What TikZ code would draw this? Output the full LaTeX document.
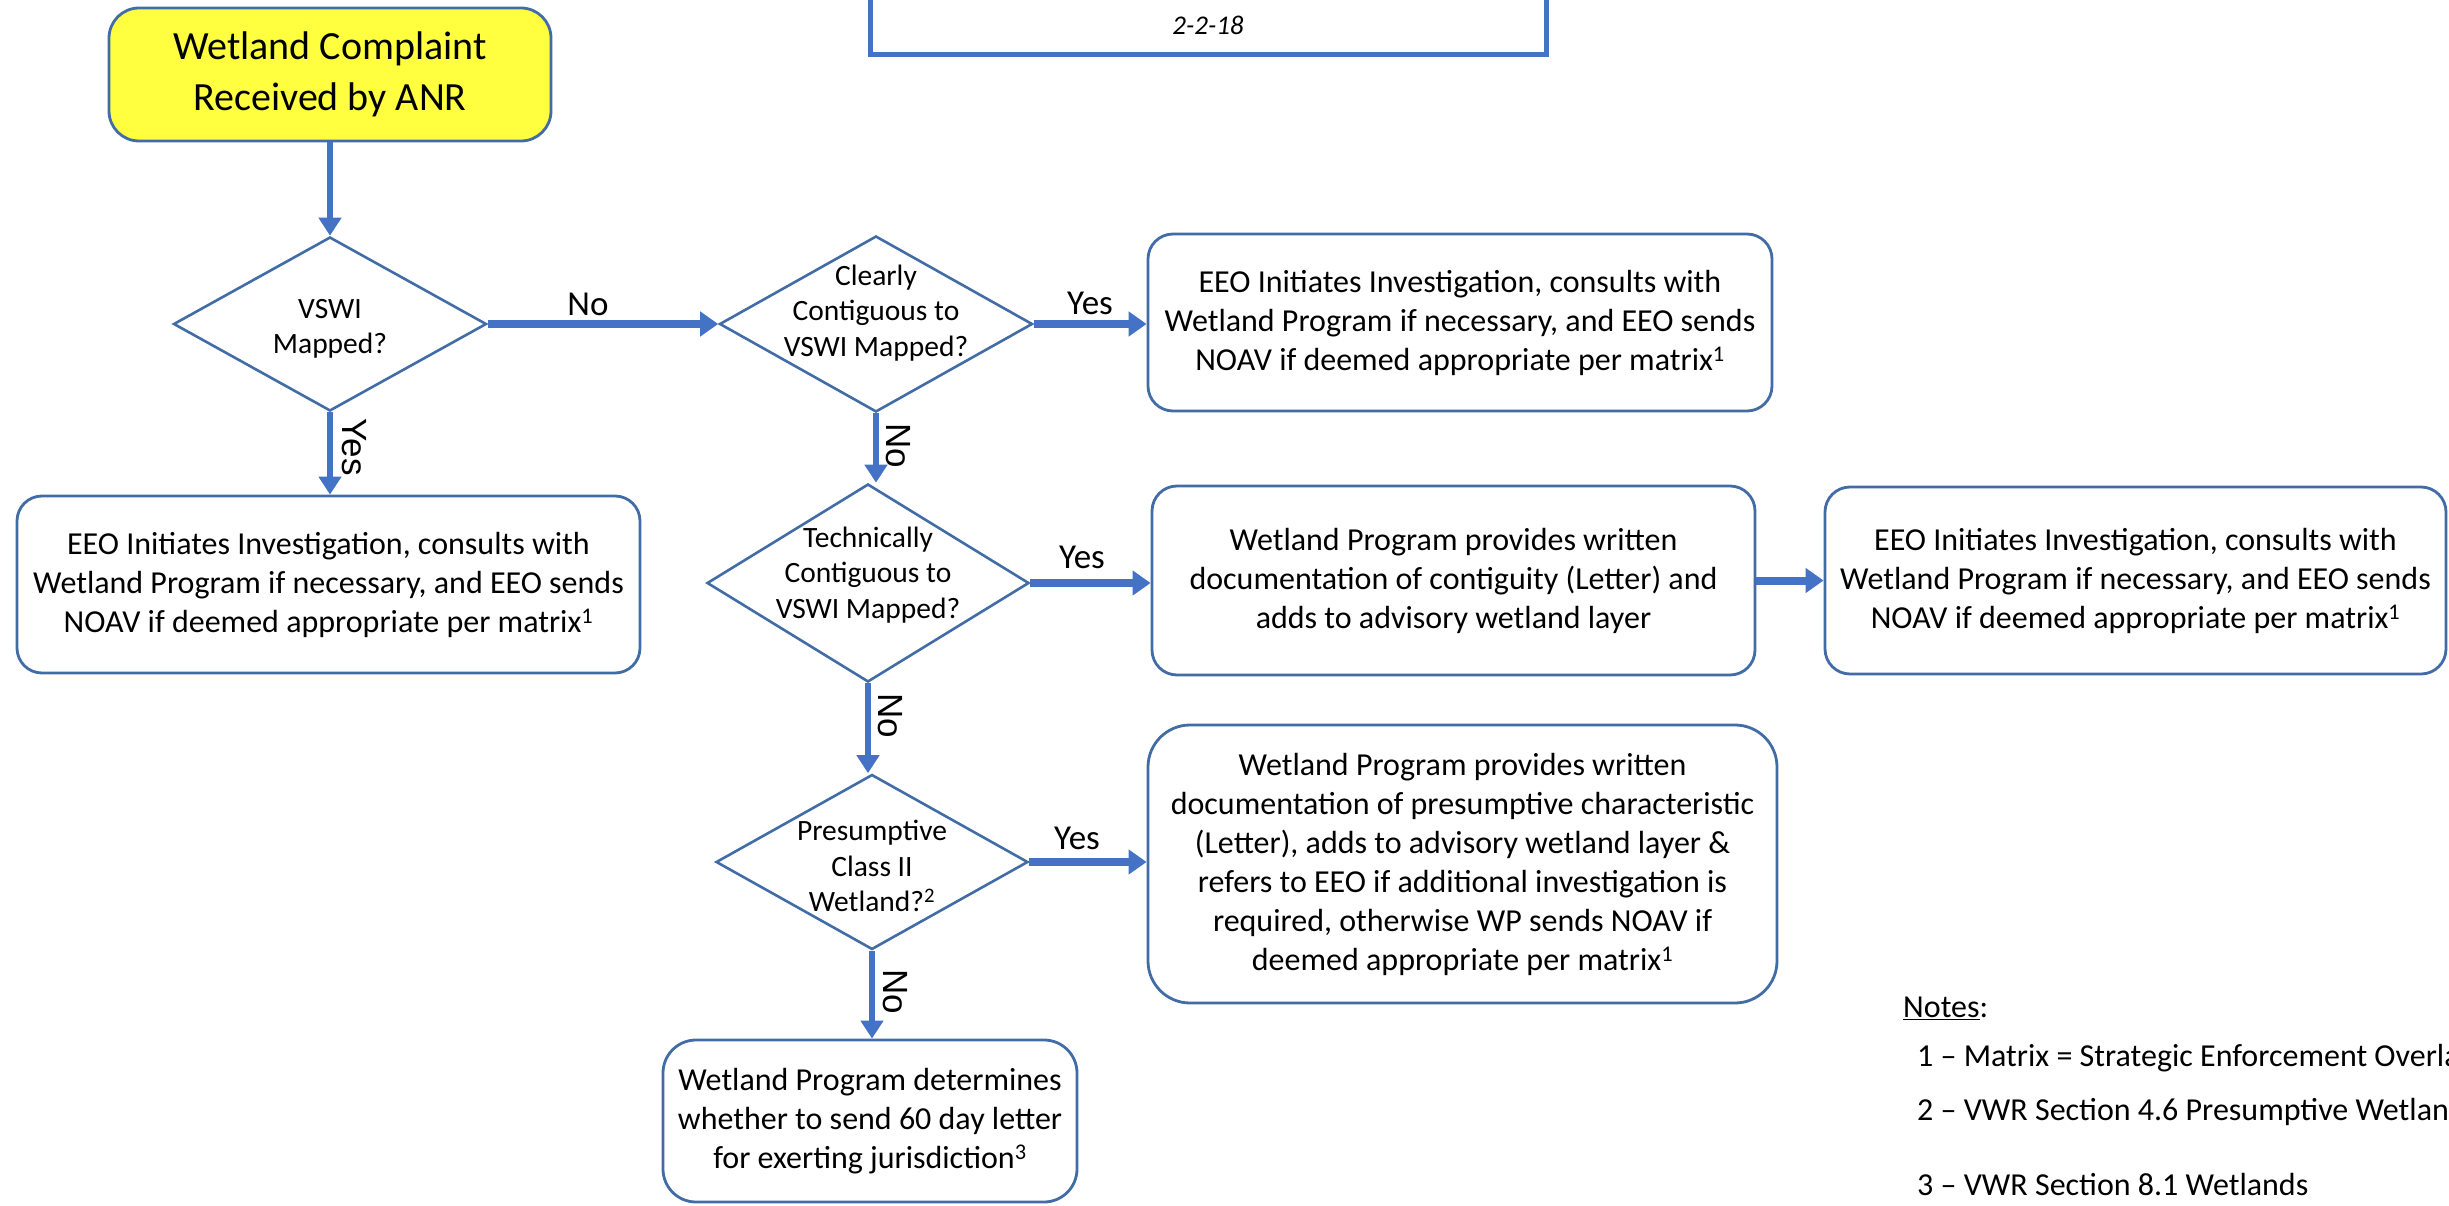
\documentclass[tikz,border=0pt]{standalone}
\usepackage{fontspec}
\setmainfont{Carlito}
\newfontfamily\arialf{Liberation Sans}
\usetikzlibrary{shapes.geometric, arrows.meta}
\definecolor{boxline}{RGB}{66,108,165}
\definecolor{arrowblue}{HTML}{4472C4}
\definecolor{yel}{RGB}{255,255,64}
\begin{document}
\begin{tikzpicture}[x=1pt,y=-1pt,
  box/.style={draw=boxline, line width=2.8pt, rounded corners=25pt, align=center, inner sep=0pt, fill=white, font=\fontsize{32}{39}\selectfont},
  dia/.style={draw=boxline, line width=2.6pt, diamond, inner sep=0pt, fill=white},
  dtext/.style={align=center, inner sep=0pt, font=\fontsize{29.5}{35.5}\selectfont},
  varr/.style={draw=arrowblue, line width=6pt, -{Triangle[length=18pt,width=22pt]}},
  harr/.style={draw=arrowblue, line width=8pt, -{Triangle[length=18pt,width=24pt]}},
  lab/.style={inner sep=0pt, font=\fontsize{35}{35}\selectfont},
  rlab/.style={inner sep=0pt, rotate=-90, font=\arialf\fontsize{35}{35}\selectfont},
  notetext/.style={inner sep=0pt, anchor=west, font=\fontsize{32}{36}\selectfont},
]
\useasboundingbox (0,0) rectangle (2449,1206);

% title box (cut off at top)
\node[draw=arrowblue, line width=5pt, minimum width=676pt, minimum height=130pt, inner sep=0pt] (title) at (1208,-10) {};
\node[inner sep=0pt, font=\itshape\fontsize{27}{27}\selectfont] (date) at (1208,25) {2-2-18};

% start
\node[box, fill=yel, rounded corners=30pt, minimum width=442pt, minimum height=133pt, font=\fontsize{40}{51}\selectfont] (start) at (330,74.5) {Wetland Complaint\\Received by ANR};

% diamonds
\node[dia, minimum width=313pt, minimum height=174pt] (d1) at (330,324) {};
\node[dtext] (d1t) at (330,329) {VSWI\\Mapped?};
\node[dia, minimum width=313pt, minimum height=176pt] (d2) at (876,324) {};
\node[dtext] (d2t) at (876,313) {Clearly\\Contiguous to\\VSWI Mapped?};
\node[dia, minimum width=322pt, minimum height=198pt] (d3) at (868,583) {};
\node[dtext] (d3t) at (868,575) {Technically\\Contiguous to\\VSWI Mapped?};
\node[dia, minimum width=312pt, minimum height=175pt] (d4) at (872,862) {};
\node[dtext] (d4t) at (872,866) {Presumptive\\Class II\\Wetland?\textsuperscript{2}};

% boxes
\node[box, minimum width=623pt, minimum height=177pt] (lb) at (328.5,584.5) {EEO Initiates Investigation, consults with\\Wetland Program if necessary, and EEO sends\\NOAV if deemed appropriate per matrix\textsuperscript{1}};
\node[box, minimum width=624pt, minimum height=177pt] (tr1) at (1460,322.5) {EEO Initiates Investigation, consults with\\Wetland Program if necessary, and EEO sends\\NOAV if deemed appropriate per matrix\textsuperscript{1}};
\node[box, minimum width=603pt, minimum height=189pt] (tr2) at (1453.5,580.5) {Wetland Program provides written\\documentation of contiguity (Letter) and\\adds to advisory wetland layer};
\node[box, minimum width=621pt, minimum height=187pt] (fr) at (2135.5,580.5) {EEO Initiates Investigation, consults with\\Wetland Program if necessary, and EEO sends\\NOAV if deemed appropriate per matrix\textsuperscript{1}};
\node[box, rounded corners=42pt, minimum width=629pt, minimum height=278pt] (br) at (1462.5,864) {Wetland Program provides written\\documentation of presumptive characteristic\\(Letter), adds to advisory wetland layer \&\\refers to EEO if additional investigation is\\required, otherwise WP sends NOAV if\\deemed appropriate per matrix\textsuperscript{1}};
\node[box, rounded corners=33pt, minimum width=414pt, minimum height=162pt] (bb) at (870,1121) {Wetland Program determines\\whether to send 60 day letter\\for exerting jurisdiction\textsuperscript{3}};

% connectors
\draw[varr] (start.south) -- (d1.north);
\draw[harr] (d1.east) -- (d2.west);
\draw[varr] (d1.south) -- (d1.south |- lb.north);
\draw[harr] (d2.east) -- (d2.east -| tr1.west);
\draw[varr] (d2.south) -- (d2.south |- d3.north);
\draw[harr] (d3.east) -- (d3.east -| tr2.west);
\draw[harr] (tr2.east) -- (tr2.east -| fr.west);
\draw[varr] (d3.south) -- (d3.south |- d4.north);
\draw[harr] (d4.east) -- (d4.east -| br.west);
\draw[varr] (d4.south) -- (d4.south |- bb.north);

% labels
\node[lab] (l1) at (588,304) {No};
\node[lab] (l2) at (1090,303) {Yes};
\node[lab] (l3) at (1082,557) {Yes};
\node[lab] (l4) at (1077,838) {Yes};
\node[rlab] (l5) at (354,447) {Yes};
\node[rlab] (l6) at (898,446) {No};
\node[rlab] (l7) at (890,716) {No};
\node[rlab] (l8) at (895,992) {No};

% notes
\node[notetext] (n0) at (1903,1008) {\underline{Notes}:};
\node[notetext] (n1) at (1917,1058) {1 -- Matrix = Strategic Enforcement Overla};
\node[notetext] (n2) at (1917,1112) {2 -- VWR Section 4.6 Presumptive Wetlan};
\node[notetext] (n3) at (1917,1185) {3 -- VWR Section 8.1 Wetlands};
\end{tikzpicture}
\end{document}
